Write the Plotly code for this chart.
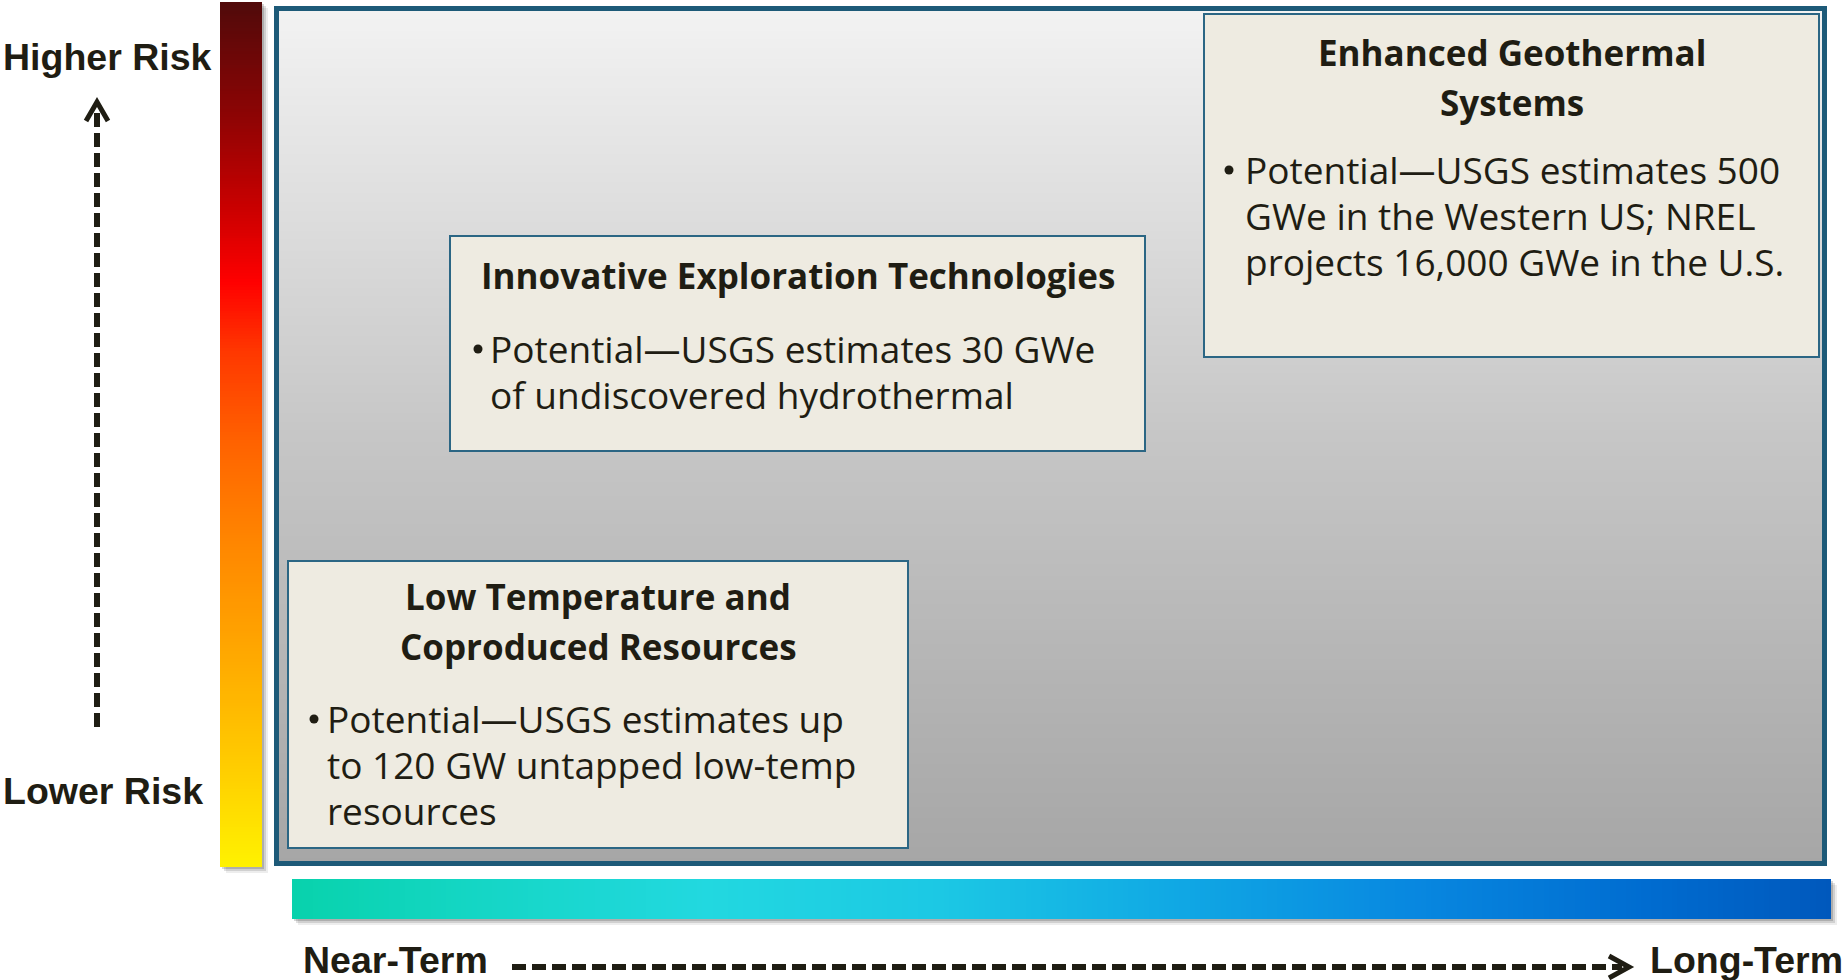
import numpy as np
import plotly.graph_objects as go

# ---------------- content ----------------
risk_labels = ["Higher Risk", "Lower Risk"]
term_labels = ["Near-Term", "Long-Term"]
box_titles = [
    ["Low Temperature and", "Coproduced Resources"],
    ["Innovative Exploration Technologies"],
    ["Enhanced Geothermal", "Systems"],
]
box_bullets = [
    ["Potential\u2014USGS estimates up", "to 120 GW untapped low-temp", "resources"],
    ["Potential\u2014USGS estimates 30 GWe", "of undiscovered hydrothermal"],
    ["Potential\u2014USGS estimates 500", "GWe in the Western US; NREL",
     "projects 16,000 GWe in the U.S."],
]

# ---------------- geometry / style (pixel space) ----------------
W, H = 1845, 980
TEXT = "#1F1D13"
BORDER = "#1D5A78"
BOX_BORDER = "#2B6684"
BOX_FILL = "#EEEBE1"
BODY_FONT = "Open Sans"
LABEL_FONT = "Liberation Sans, Arial, sans-serif"

boxes = [(288, 908, 561, 848), (450, 1145, 236, 451), (1204, 1819, 14, 357)]
title_base = [610, 289, 66]
title_step = 50
body_base = [733, 363, 184]
body_step = 46
bullet_x = [314, 478, 1229]
text_x = [327, 490, 1245]
TITLE_SIZE = 35
BODY_SIZE = 37
LABEL_SIZE = 37.5

risk_bar = (220, 262, 2, 867)
term_bar = (292, 1831, 879, 919)
main = (274, 1827, 6, 866)

risk_scale = [[0.0, "#FFF200"], [0.118, "#FFCC00"], [0.254, "#FFA600"],
              [0.39, "#FF8200"], [0.486, "#FF6400"], [0.595, "#FF3800"],
              [0.676, "#FF0000"], [0.758, "#CC0000"], [0.867, "#8E0404"],
              [1.0, "#500A0A"]]
term_scale = [[0.0, "#08D2AC"], [0.115, "#14D6C4"], [0.27, "#22D8E0"],
              [0.42, "#1CC8E4"], [0.575, "#10A8E4"], [0.727, "#0888E0"],
              [0.88, "#006CD0"], [1.0, "#0058BC"]]
gray_scale = [[0.0, "#A6A6A6"], [0.5, "#C6C6C6"], [1.0, "#F3F3F3"]]

fig = go.Figure()

# vertical risk bar (gradient)
N = 300
x0, x1, y0, y1 = risk_bar
ye = np.linspace(y0, y1, N + 1)
yc = (ye[:-1] + ye[1:]) / 2
zr = ((y1 - yc) / (y1 - y0))[:, None].repeat(2, axis=1)
fig.add_trace(go.Heatmap(x=[x0, (x0 + x1) / 2, x1], y=ye, z=zr, colorscale=risk_scale,
                         zmin=0, zmax=1, showscale=False, hoverinfo="skip"))

# horizontal term bar (gradient)
x0, x1, y0, y1 = term_bar
xe = np.linspace(x0, x1, N + 1)
xc = (xe[:-1] + xe[1:]) / 2
zt = ((xc - x0) / (x1 - x0))[None, :].repeat(2, axis=0)
fig.add_trace(go.Heatmap(x=xe, y=[y0, (y0 + y1) / 2, y1], z=zt, colorscale=term_scale,
                         zmin=0, zmax=1, showscale=False, hoverinfo="skip"))

# main panel background (gradient)
mx0, mx1, my0, my1 = main
ye = np.linspace(my0 + 2, my1 - 2, N + 1)
yc = (ye[:-1] + ye[1:]) / 2
zg = ((my1 - yc) / (my1 - my0))[:, None].repeat(2, axis=1)
fig.add_trace(go.Heatmap(x=[mx0 + 2, (mx0 + mx1) / 2, mx1 - 2], y=ye, z=zg,
                         colorscale=gray_scale, zmin=0, zmax=1, showscale=False,
                         hoverinfo="skip"))

shapes = []
# soft shadows
for (a, b, c, d) in [risk_bar, term_bar]:
    for off, alpha in [(6, 0.07), (4, 0.12), (2, 0.16)]:
        shapes.append(dict(type="rect", xref="x", yref="y", x0=a + off, x1=b + off,
                           y0=c + off, y1=d + off, line=dict(width=0),
                           fillcolor=f"rgba(0,0,0,{alpha})", layer="below"))

# main border
shapes.append(dict(type="rect", xref="x", yref="y", x0=mx0 + 2.5, x1=mx1 - 2.5,
                   y0=my0 + 2.5, y1=my1 - 2.5, line=dict(color=BORDER, width=5),
                   fillcolor="rgba(0,0,0,0)", layer="above"))

# content boxes
for (a, b, c, d) in boxes:
    shapes.append(dict(type="rect", xref="x", yref="y", x0=a, x1=b, y0=c, y1=d,
                       line=dict(color=BOX_BORDER, width=2), fillcolor=BOX_FILL,
                       layer="above"))

# bullets
for i in range(len(boxes)):
    bx = bullet_x[i]
    by = body_base[i] - 14
    shapes.append(dict(type="circle", xref="x", yref="y", x0=bx - 4.5, x1=bx + 4.5,
                       y0=by - 4.5, y1=by + 4.5, line=dict(width=0),
                       fillcolor=TEXT, layer="above"))

# dashed arrows
shapes.append(dict(type="line", xref="x", yref="y", x0=97, x1=97, y0=727, y1=106,
                   line=dict(color=TEXT, width=6, dash="14px,6px"), layer="above"))
shapes.append(dict(type="path", xref="x", yref="y", path="M 86 121 L 97 102 L 108 121",
                   line=dict(color=TEXT, width=5), layer="above"))
shapes.append(dict(type="line", xref="x", yref="y", x0=512, x1=1622, y0=967, y1=967,
                   line=dict(color=TEXT, width=6, dash="14px,6px"), layer="above"))
shapes.append(dict(type="path", xref="x", yref="y", path="M 1609 956 L 1629 967 L 1609 978",
                   line=dict(color=TEXT, width=5), layer="above"))

annotations = []


def add_text(x, baseline, s, size, family, weight, xanchor, mid_ratio):
    annotations.append(dict(x=x, y=baseline - mid_ratio * size, xref="x", yref="y",
                            text=s, showarrow=False, xanchor=xanchor, yanchor="middle",
                            borderpad=0, borderwidth=0,
                            font=dict(size=size, family=family, color=TEXT,
                                      weight=weight)))


for i, (a, b, c, d) in enumerate(boxes):
    cx = (a + b) / 2
    for j, line in enumerate(box_titles[i]):
        add_text(cx, title_base[i] + j * title_step, line, TITLE_SIZE, BODY_FONT, 700,
                 "center", 0.388)
    for j, line in enumerate(box_bullets[i]):
        add_text(text_x[i], body_base[i] + j * body_step, line, BODY_SIZE, BODY_FONT, 400,
                 "left", 0.388)

# axis labels
add_text(3, 70, risk_labels[0], LABEL_SIZE, LABEL_FONT, 700, "left", 0.347)
add_text(3, 804, risk_labels[1], LABEL_SIZE, LABEL_FONT, 700, "left", 0.347)
add_text(303, 973, term_labels[0], LABEL_SIZE, LABEL_FONT, 700, "left", 0.347)
add_text(1650, 973, term_labels[1], LABEL_SIZE, LABEL_FONT, 700, "left", 0.347)

fig.update_layout(
    width=W, height=H, autosize=False,
    margin=dict(l=0, r=0, t=0, b=0, pad=0),
    paper_bgcolor="white", plot_bgcolor="white",
    xaxis=dict(range=[0, W], visible=False, fixedrange=True),
    yaxis=dict(range=[H, 0], visible=False, fixedrange=True),
    shapes=shapes, annotations=annotations, showlegend=False,
)

fig.write_html(
    "out.html",
    config={"displayModeBar": False},
    post_script="document.body.style.margin='0px';document.body.style.overflow='hidden';",
)
